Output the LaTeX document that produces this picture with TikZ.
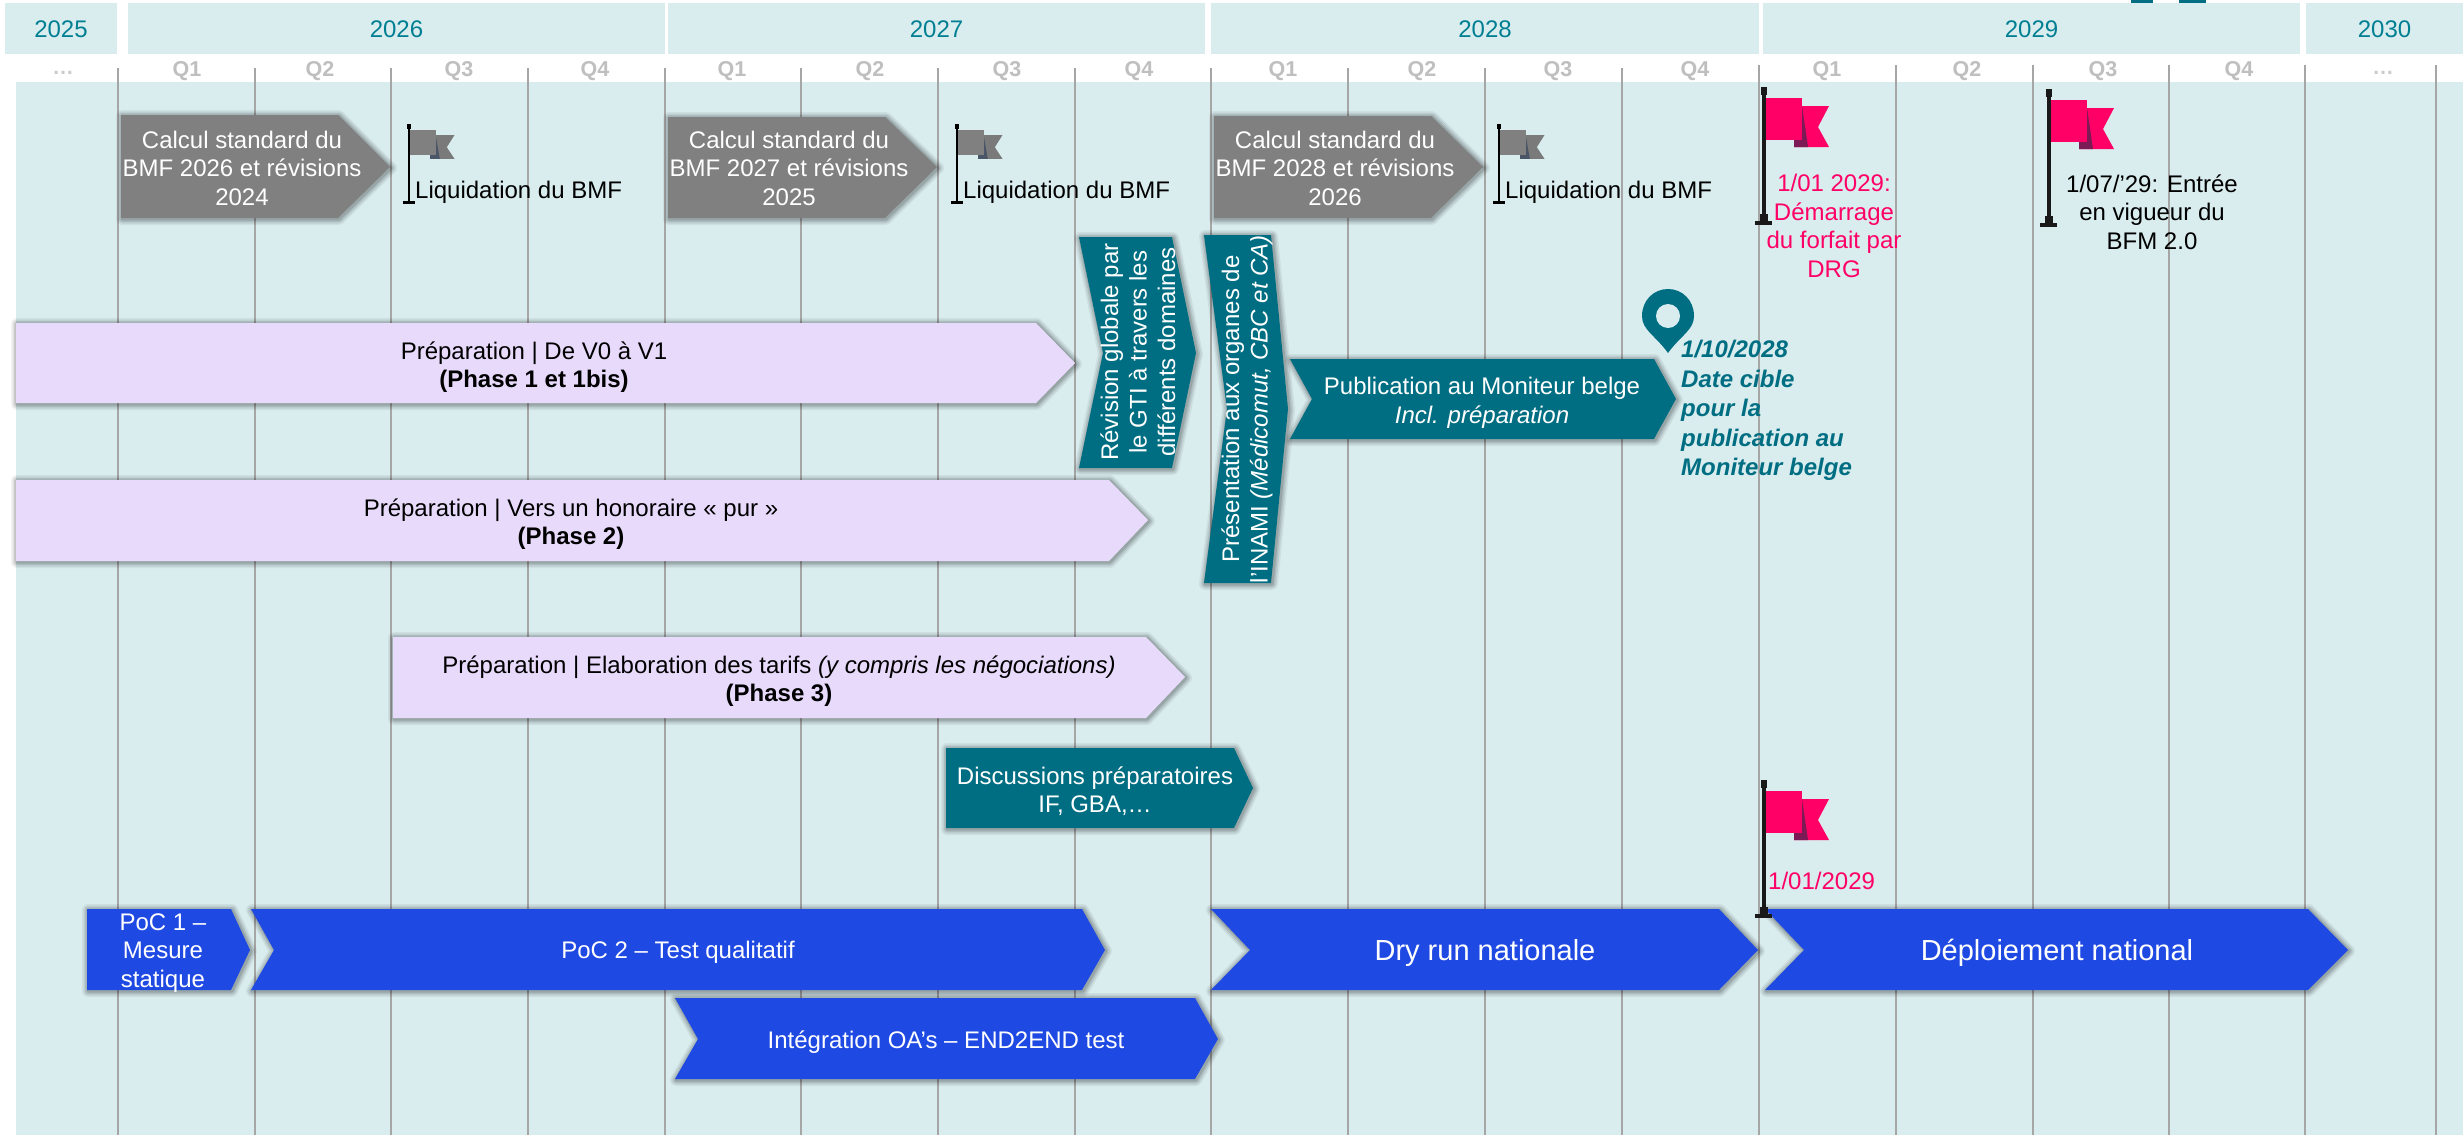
\documentclass[tikz,border=0pt]{standalone}
\usepackage{fontspec}
\setmainfont{Liberation Sans}
\usetikzlibrary{calc,positioning}
\definecolor{paleteal}{HTML}{D9ECEE}
\definecolor{yearteal}{HTML}{007F93}
\definecolor{deepteal}{HTML}{006E82}
\definecolor{lilac}{HTML}{E8DAFB}
\definecolor{royal}{HTML}{1F49E3}
\definecolor{hotpink}{HTML}{FF0066}
\definecolor{plum}{HTML}{7B1A55}
\definecolor{slate}{HTML}{4A5568}
\tikzset{
	softshadow/.style={
		preaction={draw=black,draw opacity=.05,line width=12pt,line join=round,transform canvas={shift={(1pt,-1pt)}}},
		preaction={draw=black,draw opacity=.07,line width=9pt,line join=round,transform canvas={shift={(1pt,-1pt)}}},
		preaction={draw=black,draw opacity=.09,line width=6pt,line join=round,transform canvas={shift={(1pt,-1pt)}}},
		preaction={draw=black,draw opacity=.12,line width=3pt,line join=round,transform canvas={shift={(1pt,-1pt)}}}},
	grayshape/.style={softshadow,fill=black!50},
	lilacshape/.style={softshadow,fill=lilac},
	tealshape/.style={softshadow,fill=deepteal},
	blueshape/.style={softshadow,fill=royal},
	gridline/.style={draw=black!35,line width=2pt},
	yearbar/.style={fill=paleteal},
	yearlabel/.style={text=yearteal,font=\fontsize{24}{28}\selectfont},
	quarterlabel/.style={text=black!25,font=\fontsize{21.5}{26}\bfseries\selectfont},
	plainlabel/.style={align=center,inner sep=0pt,font=\fontsize{24}{28.5}\selectfont},
	whitelabel/.style={plainlabel,text=white},
	biglabel/.style={whitelabel,font=\fontsize{29}{34}\selectfont},
	pinlabel/.style={align=left,anchor=north west,inner sep=0pt,text=deepteal,font=\fontsize{24}{29.5}\bfseries\itshape\selectfont},
}
\begin{document}
\begin{tikzpicture}[x=1pt,y=-1pt]
	\useasboundingbox (0,0) rectangle (2463,1135);
	\fill[white] (0,0) rectangle (2463,1135);
	\fill[paleteal] (16,82) rectangle (2463,1135);
	\fill[deepteal] (2131,0) rectangle (2153,3);
	\fill[deepteal] (2179,0) rectangle (2206,3);
	\foreach \ya/\yb/\yname in {5/117/2025,128/665/2026,668/1205/2027,1211/1759/2028,1763/2300/2029,2306/2463/2030} {
		\fill[yearbar] (\ya,3) rectangle (\yb,54);
		\node[yearlabel] (year\yname) at ({(\ya+\yb)/2},29) {\yname};
	}
	\foreach \qx/\qname [count=\qi] in {187/Q1,320/Q2,459/Q3,595/Q4,732/Q1,870/Q2,1007/Q3,1139/Q4,1283/Q1,1422/Q2,1558/Q3,1695/Q4,1827/Q1,1967/Q2,2103/Q3,2239/Q4} {
		\node[quarterlabel] (quarter\qi) at (\qx,71) {\qname};
	}
	\node[quarterlabel,text=black!20] (before) at (63,73) {…};
	\node[quarterlabel,text=black!20] (after) at (2383,73) {…};
	\foreach \gx in {118,255,391,528,665,801,938,1075,1211,1348,1485,1622} {
		\draw[gridline] (\gx,68) -- (\gx,1135);
	}
	\foreach \gx in {1759,1896,2033,2169,2305,2436} {
		\draw[gridline] (\gx,65) -- (\gx,1135);
	}
	\foreach \xa/\ya/\yname/\ybase in {121/115/2026/2024,668/117/2027/2025,1214/116/2028/2026} {
		\fill[grayshape] (\xa,\ya) -- ($(\xa,\ya)+(217,0)$) -- ($(\xa,167)+(269,0)$) -- ($(\xa,218)+(217,0)$) -- (\xa,218) -- cycle;
		\node[whitelabel] (calc\yname) at ($(\xa,168)+(121,0)$) {Calcul standard du\\BMF \yname{} et révisions\\\ybase};
	}
	\foreach \fx/\fname in {409/a,957/b,1499/c} {
		\begin{scope}[shift={(\fx,124)},xscale=.7,yscale=.58]
			\fill[black!52] (30,19) -- (65,19) -- (54,40) -- (65,60) -- (30,60) -- cycle;
			\fill[slate] (38,19) -- (44,60) -- (30,60) -- (30,53) -- (38,53) -- cycle;
			\fill[black!50] (2,11) rectangle (38,53);
			\fill[black] (-1.8,0) rectangle (1.8,138);
			\fill[black] (-3,0) rectangle (3,9);
			\fill[black] (-9,132) rectangle (8,138);
		\end{scope}
		\node[plainlabel,anchor=west] (liquid\fname) at ($(\fx,192)+(6,0)$) {Liquidation du BMF};
	}
	\foreach \fx/\fy in {1764/87,2049/89,1764/780} {
		\begin{scope}[shift={(\fx,\fy)}]
			\fill[hotpink] (30,19) -- (65,19) -- (54,40) -- (65,60) -- (30,60) -- cycle;
			\fill[plum] (38,19) -- (44,60) -- (30,60) -- (30,53) -- (38,53) -- cycle;
			\fill[hotpink] (2,11) rectangle (38,53);
			\fill[black!90] (-2,0) rectangle (2,138);
			\fill[black!90] (-3,0) rectangle (3,8);
			\fill[black!90] (-4,127) rectangle (4,134);
			\fill[black!90] (-9,134) rectangle (8,138);
		\end{scope}
	}
	\node[plainlabel,text=hotpink] (demarrage) at (1834,226) {1/01 2029:\\Démarrage\\du forfait par\\DRG};
	\node[plainlabel] (vigueur) at (2152,212) {1/07/’29: Entrée\\en vigueur du\\BFM 2.0};
	\node[plainlabel,text=hotpink,anchor=west] (depart) at (1768,881) {1/01/2029};

	\fill[lilacshape] (16,323) -- (1036,323) -- (1075,363) -- (1036,403) -- (16,403) -- cycle;
	\node[plainlabel] (phaseone) at (534,367) {Préparation | De V0 à V1\\\textbf{(Phase 1 et 1bis)}};
	\fill[lilacshape] (16,480) -- (1109,480) -- (1148,520) -- (1109,561) -- (16,561) -- cycle;
	\node[plainlabel] (phasetwo) at (571,524) {Préparation | Vers un honoraire « pur »\\\textbf{(Phase 2)}};
	\fill[lilacshape] (393,637) -- (1146,637) -- (1185,677) -- (1146,718) -- (393,718) -- cycle;
	\node[plainlabel] (phasethree) at (779,681) {Préparation | Elaboration des tarifs \textit{(y compris les négociations)}\\\textbf{(Phase 3)}};

	\fill[tealshape] (1079,237) -- (1172,237) -- (1196,353) -- (1172,468) -- (1079,468) -- (1103,353) -- cycle;
	\node[whitelabel,rotate=90] (revision) at (1138,352) {Révision globale par\\le GTI à travers les\\différents domaines};
	\fill[tealshape] (1204,235) -- (1271,235) -- (1288,409) -- (1271,583) -- (1204,583) -- (1227,409) -- cycle;
	\node[whitelabel,rotate=90] (inami) at (1247,409) {Présentation aux organes de\\l’INAMI \textit{(Médicomut, CBC et CA)}};
	\fill[tealshape] (1290,359) -- (1654,359) -- (1676,399) -- (1654,439) -- (1290,439) -- (1312,399) -- cycle;
	\node[whitelabel] (moniteur) at (1482,403) {Publication au Moniteur belge\\\textit{Incl. préparation}};
	\fill[tealshape] (946,748) -- (1234,748) -- (1253,788) -- (1234,828) -- (946,828) -- cycle;
	\node[whitelabel] (discussion) at (1095,791) {Discussions préparatoires\\IF, GBA,…};

	\fill[deepteal] (1668,353) .. controls (1655,335) and (1642,330) .. (1642,316) .. controls (1642,300) and (1654,289) .. (1668,289) .. controls (1682,289) and (1694,300) .. (1694,316) .. controls (1694,330) and (1681,335) .. (1668,353);
	\fill[paleteal] (1668,316) circle[radius=12];
	\node[pinlabel] (cible) at (1681,340) {1/10/2028\\Date cible\\pour la\\publication au\\Moniteur belge};

	\fill[blueshape] (87,909) -- (231,909) -- (250,950) -- (231,990) -- (87,990) -- cycle;
	\node[whitelabel] (pocone) at (163,953) {PoC 1 –\\Mesure\\statique};
	\fill[blueshape] (251,909) -- (1082,909) -- (1105,950) -- (1082,990) -- (251,990) -- (274,950) -- cycle;
	\node[whitelabel] (poctwo) at (678,952) {PoC 2 – Test qualitatif};
	\fill[blueshape] (675,998) -- (1195,998) -- (1218,1039) -- (1195,1079) -- (675,1079) -- (698,1039) -- cycle;
	\node[whitelabel] (endtoend) at (946,1042) {Intégration OA’s – END2END test};
	\fill[blueshape] (1211,909) -- (1719,909) -- (1758,950) -- (1719,990) -- (1211,990) -- (1250,950) -- cycle;
	\node[biglabel] (dryrun) at (1485,953) {Dry run nationale};
	\fill[blueshape] (1765,909) -- (2308,909) -- (2348,950) -- (2308,990) -- (1765,990) -- (1804,950) -- cycle;
	\node[biglabel] (deploy) at (2057,953) {Déploiement national};
	\begin{scope}[shift={(1764,780)}]
		\fill[black!90] (-4,127) rectangle (4,134);
		\fill[black!90] (-9,134) rectangle (8,138);
	\end{scope}
\end{tikzpicture}
\end{document}
